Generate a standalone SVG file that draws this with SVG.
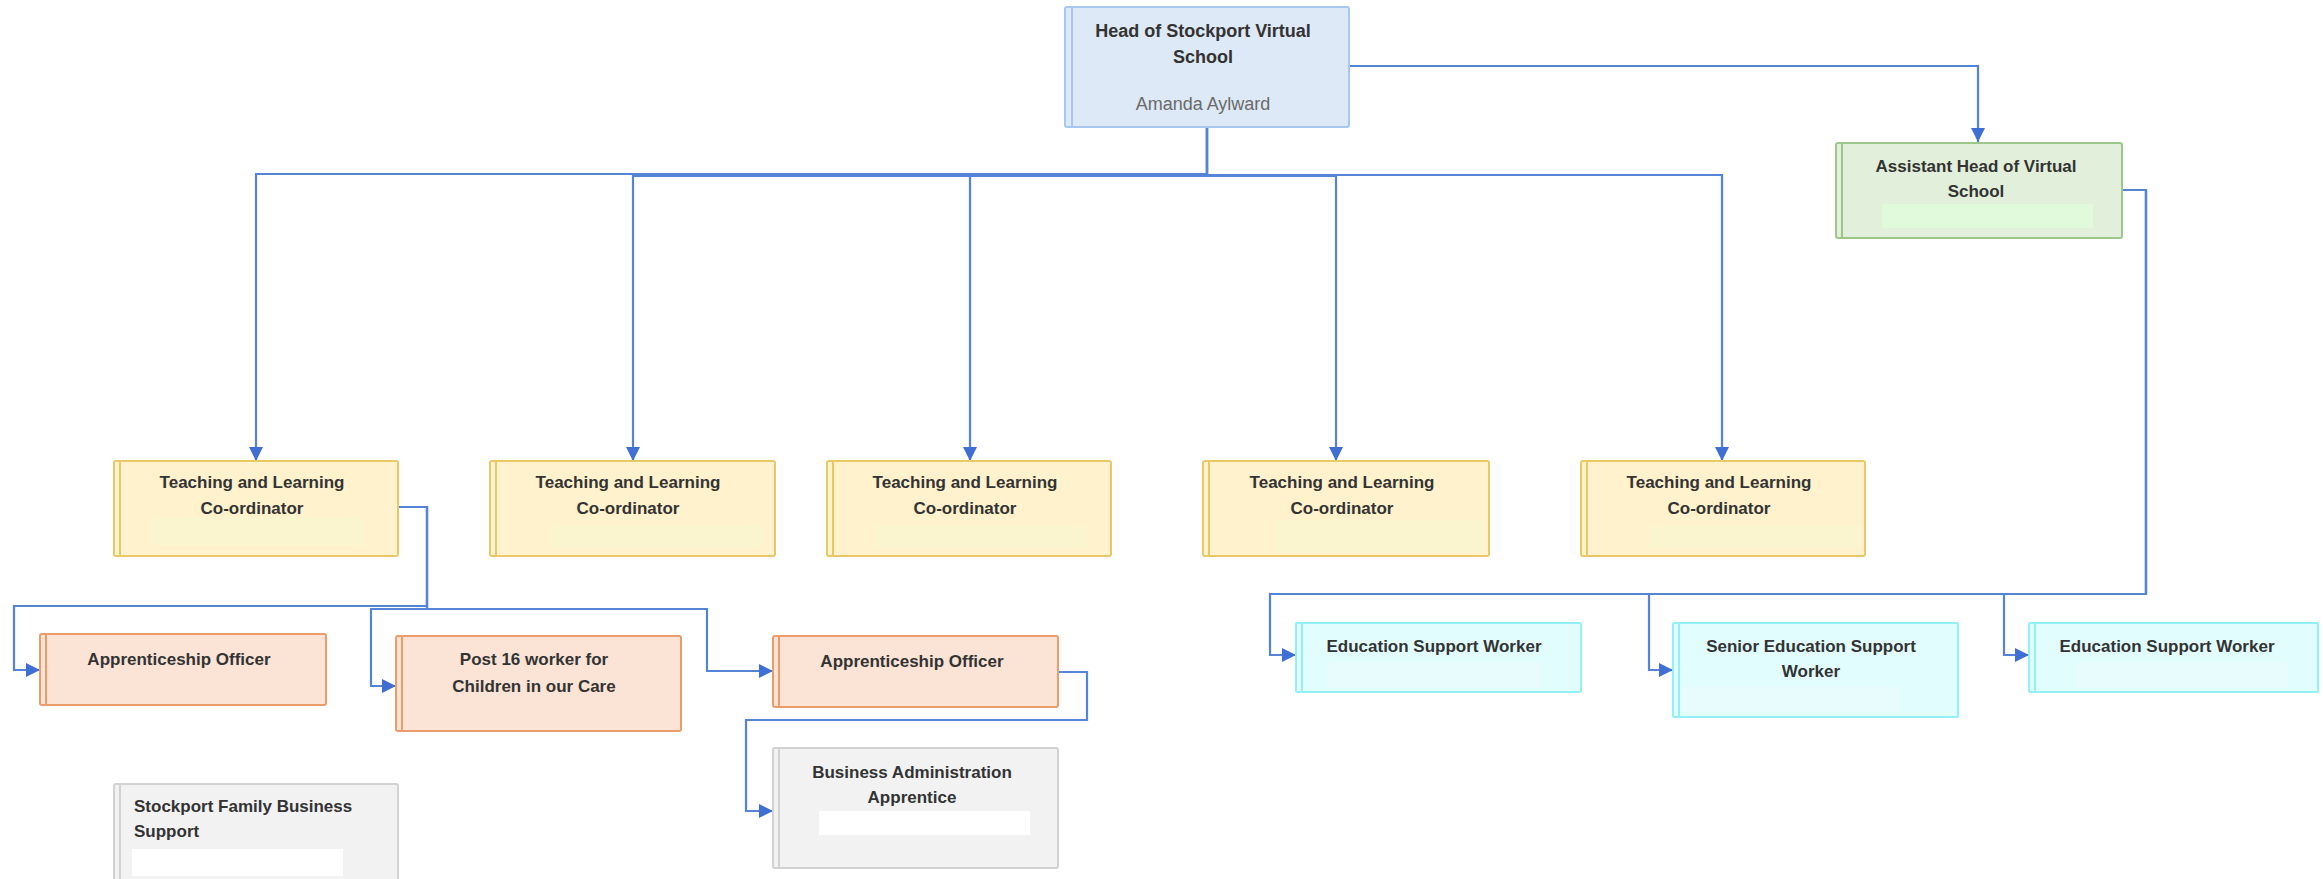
<svg xmlns="http://www.w3.org/2000/svg" width="2323" height="879" viewBox="0 0 2323 879">
<defs>
<marker id="arr" viewBox="0 0 10 10" refX="10" refY="5" markerWidth="15" markerHeight="14" markerUnits="userSpaceOnUse" orient="auto">
<path d="M0,0 L10,5 L0,10 z" fill="#3f6fd3"/>
</marker>
<style>
.t{font-family:"Liberation Sans",Arial,sans-serif;font-weight:bold;font-size:17px;fill:#333;text-anchor:middle}
.ts{font-family:"Liberation Sans",Arial,sans-serif;font-size:18px;fill:#6a6a6a;text-anchor:middle}
.tl{text-anchor:start}
.c{fill:none;stroke:#5583d8;stroke-width:2.2;stroke-linejoin:miter}
.ca{marker-end:url(#arr)}
.blue{fill:#dde9f6;stroke:#a6c8f0;stroke-width:2}
.green{fill:#e2efda;stroke:#9cc68a;stroke-width:2}
.yel{fill:#fff2cc;stroke:#e8c867;stroke-width:2}
.org{fill:#fbe4d5;stroke:#ec9c6a;stroke-width:2}
.gry{fill:#f2f2f2;stroke:#d2d2d2;stroke-width:2}
.cyn{fill:#e2fdfe;stroke:#93f0f5;stroke-width:2}
.bar{stroke-width:2;fill:none}
</style>
</defs>
<rect width="2323" height="879" fill="#ffffff"/>

<g id="connectors">
<path class="c ca" d="M1349,66 H1978 V142"/>
<path class="c ca" d="M1207,127 V174 H256 V461"/>
<path class="c ca" d="M1207,127 V176 H633 V461"/>
<path class="c ca" d="M1207,127 V174 H970 V461"/>
<path class="c ca" d="M1207,127 V176 H1336 V461"/>
<path class="c ca" d="M1207,127 V175 H1722 V461"/>
<path class="c ca" d="M398,507 H427 V606 H14 V670 H40"/>
<path class="c ca" d="M398,507 H427 V609 H371 V686 H396"/>
<path class="c ca" d="M398,507 H427 V609 H707 V671 H773"/>
<path class="c ca" d="M1058,672 H1087 V720 H746 V811 H773"/>
<path class="c ca" d="M2122,190 H2146 V594 H1270 V655 H1296"/>
<path class="c ca" d="M2122,190 H2146 V594 H1649 V670 H1673"/>
<path class="c ca" d="M2122,190 H2146 V594 H2004 V655 H2029"/>
</g>

<g id="head">
<rect class="blue" x="1065" y="7" width="284" height="120" rx="2"/>
<line class="bar" x1="1072" y1="8" x2="1072" y2="126" stroke="#a6c8f0"/>
<text class="t" x="1203" y="37" style="font-size:18px">Head of Stockport Virtual</text>
<text class="t" x="1203" y="63" style="font-size:18px">School</text>
<text class="ts" x="1203" y="110">Amanda Aylward</text>
</g>

<g id="assistant">
<rect class="green" x="1836" y="143" width="286" height="95" rx="2"/>
<line class="bar" x1="1842" y1="144" x2="1842" y2="237" stroke="#9cc68a"/>
<rect x="1882" y="204" width="211" height="24" fill="#e0fadb"/>
<text class="t" x="1976" y="172">Assistant Head of Virtual</text>
<text class="t" x="1976" y="197">School</text>
</g>

<g id="tlc1">
<rect class="yel" x="114" y="461" width="284" height="95" rx="2"/>
<line class="bar" x1="120" y1="462" x2="120" y2="555" stroke="#e8c867"/>
<rect x="152" y="517" width="211" height="28" fill="#faf4cf"/>
<text class="t" x="252" y="488">Teaching and Learning</text>
<text class="t" x="252" y="514">Co-ordinator</text>
</g>
<g id="tlc2">
<rect class="yel" x="490" y="461" width="285" height="95" rx="2"/>
<line class="bar" x1="496" y1="462" x2="496" y2="555" stroke="#e8c867"/>
<rect x="553" y="525" width="211" height="23" fill="#faf4cf"/>
<text class="t" x="628" y="488">Teaching and Learning</text>
<text class="t" x="628" y="514">Co-ordinator</text>
</g>
<g id="tlc3">
<rect class="yel" x="827" y="461" width="284" height="95" rx="2"/>
<line class="bar" x1="833" y1="462" x2="833" y2="555" stroke="#e8c867"/>
<rect x="874" y="525" width="212" height="23" fill="#faf4cf"/>
<text class="t" x="965" y="488">Teaching and Learning</text>
<text class="t" x="965" y="514">Co-ordinator</text>
</g>
<g id="tlc4">
<rect class="yel" x="1203" y="461" width="286" height="95" rx="2"/>
<line class="bar" x1="1209" y1="462" x2="1209" y2="555" stroke="#e8c867"/>
<rect x="1275" y="520" width="210" height="33" fill="#faf4cf"/>
<text class="t" x="1342" y="488">Teaching and Learning</text>
<text class="t" x="1342" y="514">Co-ordinator</text>
</g>
<g id="tlc5">
<rect class="yel" x="1581" y="461" width="284" height="95" rx="2"/>
<line class="bar" x1="1587" y1="462" x2="1587" y2="555" stroke="#e8c867"/>
<rect x="1650" y="525" width="210" height="23" fill="#faf4cf"/>
<text class="t" x="1719" y="488">Teaching and Learning</text>
<text class="t" x="1719" y="514">Co-ordinator</text>
</g>

<g id="appr1">
<rect class="org" x="40" y="634" width="286" height="71" rx="2"/>
<line class="bar" x1="46" y1="635" x2="46" y2="704" stroke="#ec9c6a"/>
<text class="t" x="179" y="665">Apprenticeship Officer</text>
</g>
<g id="post16">
<rect class="org" x="396" y="636" width="285" height="95" rx="2"/>
<line class="bar" x1="402" y1="637" x2="402" y2="730" stroke="#ec9c6a"/>
<text class="t" x="534" y="665">Post 16 worker for</text>
<text class="t" x="534" y="692">Children in our Care</text>
</g>
<g id="appr2">
<rect class="org" x="773" y="636" width="285" height="71" rx="2"/>
<line class="bar" x1="779" y1="637" x2="779" y2="706" stroke="#ec9c6a"/>
<text class="t" x="912" y="667">Apprenticeship Officer</text>
</g>

<g id="bizadmin">
<rect class="gry" x="773" y="748" width="285" height="120" rx="2"/>
<line class="bar" x1="779" y1="749" x2="779" y2="867" stroke="#d2d2d2"/>
<rect x="819" y="811" width="211" height="24" fill="#ffffff"/>
<text class="t" x="912" y="778">Business Administration</text>
<text class="t" x="912" y="803">Apprentice</text>
</g>
<g id="sfbs">
<rect class="gry" x="114" y="784" width="284" height="100" rx="2"/>
<line class="bar" x1="120" y1="785" x2="120" y2="879" stroke="#d2d2d2"/>
<rect x="132" y="849" width="211" height="27" fill="#ffffff"/>
<text class="t tl" x="134" y="812">Stockport Family Business</text>
<text class="t tl" x="134" y="837">Support</text>
</g>

<g id="esw1">
<rect class="cyn" x="1296" y="623" width="285" height="69" rx="1"/>
<line class="bar" x1="1302" y1="624" x2="1302" y2="691" stroke="#93f0f5"/>
<rect x="1329" y="662" width="213" height="26" fill="#e9fcfd"/>
<text class="t" x="1434" y="652">Education Support Worker</text>
</g>
<g id="sesw">
<rect class="cyn" x="1673" y="623" width="285" height="94" rx="1"/>
<line class="bar" x1="1679" y1="624" x2="1679" y2="716" stroke="#93f0f5"/>
<rect x="1681" y="687" width="217" height="25" fill="#e9fcfd"/>
<text class="t" x="1811" y="652">Senior Education Support</text>
<text class="t" x="1811" y="677">Worker</text>
</g>
<g id="esw2">
<rect class="cyn" x="2029" y="623" width="289" height="69" rx="1"/>
<line class="bar" x1="2035" y1="624" x2="2035" y2="691" stroke="#93f0f5"/>
<rect x="2076" y="662" width="211" height="26" fill="#e9fcfd"/>
<text class="t" x="2167" y="652">Education Support Worker</text>
</g>
</svg>
